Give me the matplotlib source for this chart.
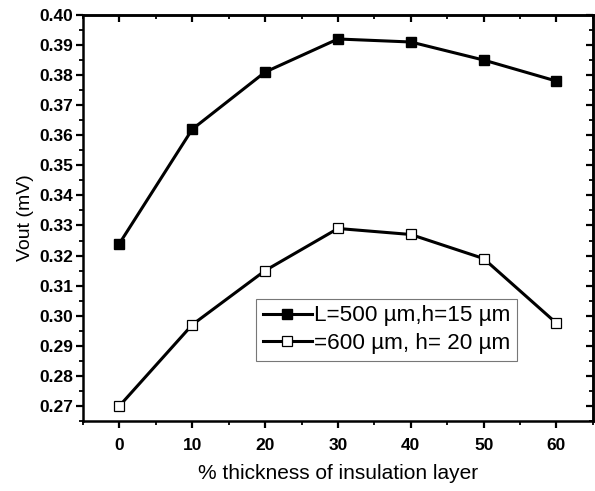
import matplotlib
matplotlib.use("Agg")
import matplotlib.pyplot as plt
from matplotlib.ticker import MultipleLocator

plt.rcParams["font.family"] = ["Liberation Sans", "DejaVu Sans"]

thickness = [0, 10, 20, 30, 40, 50, 60]
vout_500 = [0.324, 0.362, 0.381, 0.392, 0.391, 0.385, 0.378]
vout_600 = [0.270, 0.297, 0.315, 0.329, 0.327, 0.319, 0.2975]
labels = ["L=500 µm,h=15 µm", "=600 µm, h= 20 µm"]

fig = plt.figure(figsize=(5.95, 4.91), dpi=100)
ax = fig.add_axes([0.1395, 0.1426, 0.857, 0.827])

ax.plot(thickness, vout_500, color="black", lw=2.2, marker="s", ms=7,
		mfc="black", mec="black", label=labels[0])
ax.plot(thickness, vout_600, color="black", lw=2.2, marker="s", ms=7,
		mfc="white", mec="black", mew=0.9, label=labels[1])

ax.set_xlim(-5, 65)
ax.set_ylim(0.265, 0.40)
ax.xaxis.set_minor_locator(MultipleLocator(5))
ax.yaxis.set_major_locator(MultipleLocator(0.01))
ax.yaxis.set_minor_locator(MultipleLocator(0.005))
ax.set_xticks([0, 10, 20, 30, 40, 50, 60])
ax.yaxis.set_major_formatter(matplotlib.ticker.FormatStrFormatter("%.2f"))

for spine in ax.spines.values():
	spine.set_linewidth(1.8)
ax.tick_params(which="major", direction="out", length=5, width=1.6,
			   labelsize=12.5, pad=2)
ax.tick_params(which="minor", direction="out", length=3, width=1.3)
for lab in ax.get_xticklabels() + ax.get_yticklabels():
	lab.set_fontweight("bold")
ax.tick_params(axis="x", pad=7)

# top and right ticks point inwards, no labels
top = ax.secondary_xaxis("top")
top.set_xticks([0, 10, 20, 30, 40, 50, 60])
top.xaxis.set_minor_locator(MultipleLocator(5))
top.tick_params(which="major", direction="in", length=5, width=1.6, labeltop=False)
top.tick_params(which="minor", direction="in", length=3, width=1.3)
right = ax.secondary_yaxis("right")
right.yaxis.set_major_locator(MultipleLocator(0.01))
right.yaxis.set_minor_locator(MultipleLocator(0.005))
right.tick_params(which="major", direction="in", length=5, width=1.6, labelright=False)
right.tick_params(which="minor", direction="in", length=3, width=1.3)
top.spines["top"].set_linewidth(1.8)
right.spines["right"].set_linewidth(1.8)

ax.set_xlabel("% thickness of insulation layer", fontsize=15, labelpad=8)
ax.set_ylabel("Vout (mV)", fontsize=14, labelpad=4)

leg = ax.legend(loc="lower left", bbox_to_anchor=(0.339, 0.148), fontsize=16.2,
				frameon=True, fancybox=False, edgecolor="#555555",
				handlelength=2.2, handletextpad=0.1, borderpad=0.3,
				labelspacing=0.3, borderaxespad=0)
leg.get_frame().set_linewidth(0.8)

fig.savefig("out.png", dpi=100)
